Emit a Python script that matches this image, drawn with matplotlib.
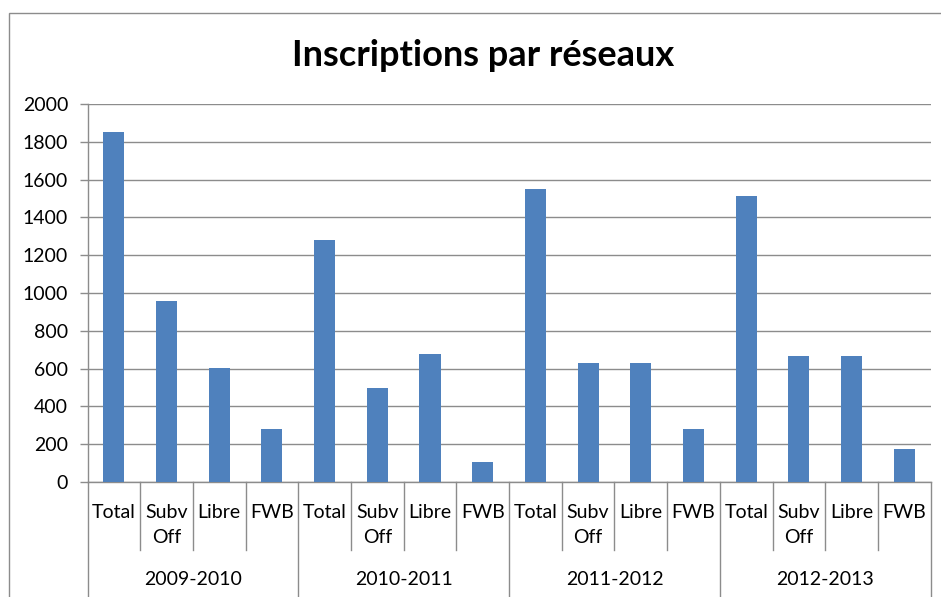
import matplotlib
matplotlib.use("Agg")
import matplotlib.pyplot as plt
from matplotlib.patches import Rectangle

plt.rcParams['font.family'] = ['Lato', 'DejaVu Sans']

years = ['2009-2010', '2010-2011', '2011-2012', '2012-2013']
networks = ['Total', 'Subv\nOff', 'Libre', 'FWB']
values = [
    [1850, 960, 605, 278],
    [1280, 495, 675, 105],
    [1548, 630, 630, 278],
    [1512, 665, 665, 173],
]

bar_color = '#4F81BD'
line_color = '#8C8C8C'

fig = plt.figure(figsize=(9.41, 5.97), dpi=100)
ax = fig.add_axes([0.093, 0.1926, 0.896, 0.6332])

# outer chart border (cropped on the right and bottom like the source)
fig.patches.append(Rectangle((8.5 / 941, -0.1), 1.2, 1 - 12.5 / 597 + 0.1,
                             transform=fig.transFigure, fill=False,
                             edgecolor=line_color, linewidth=1.0))

heights = [v for group in values for v in group]
labels = [n for _ in years for n in networks]
xs = list(range(len(heights)))
ax.bar(xs, heights, width=0.4, color=bar_color, zorder=3)

ax.set_xlim(-0.5, len(heights) - 0.5)
ax.set_ylim(0, 2000)
ax.set_yticks(range(0, 2001, 200))
ax.tick_params(axis='y', length=6, width=1, color=line_color, pad=8, labelsize=14)
ax.set_xticks([])
ax.yaxis.grid(True, color=line_color, linewidth=1.0, zorder=0)

for side in ['top', 'right']:
    ax.spines[side].set_visible(False)
for side in ['left', 'bottom']:
    ax.spines[side].set_color(line_color)
    ax.spines[side].set_linewidth(1.0)

trans = ax.get_xaxis_transform()

# category separators
for i in range(len(heights) + 1):
    bottom = -0.34 if i % len(networks) == 0 else -0.18
    ax.plot([i - 0.5, i - 0.5], [0, bottom], color=line_color, linewidth=1.0,
            transform=trans, clip_on=False)

for x, lab in zip(xs, labels):
    ax.text(x, -0.057, lab, transform=trans, ha='center', va='top',
            fontsize=14, linespacing=1.62)

for g, year in enumerate(years):
    center = g * len(networks) + (len(networks) - 1) / 2
    ax.text(center, -0.257, year, transform=trans, ha='center', va='center',
            fontsize=14)

fig.text(483 / 941, 1 - 55 / 597, 'Inscriptions par réseaux', ha='center',
         va='center', fontsize=26, fontweight='bold')

fig.savefig('out.png', dpi=100)
